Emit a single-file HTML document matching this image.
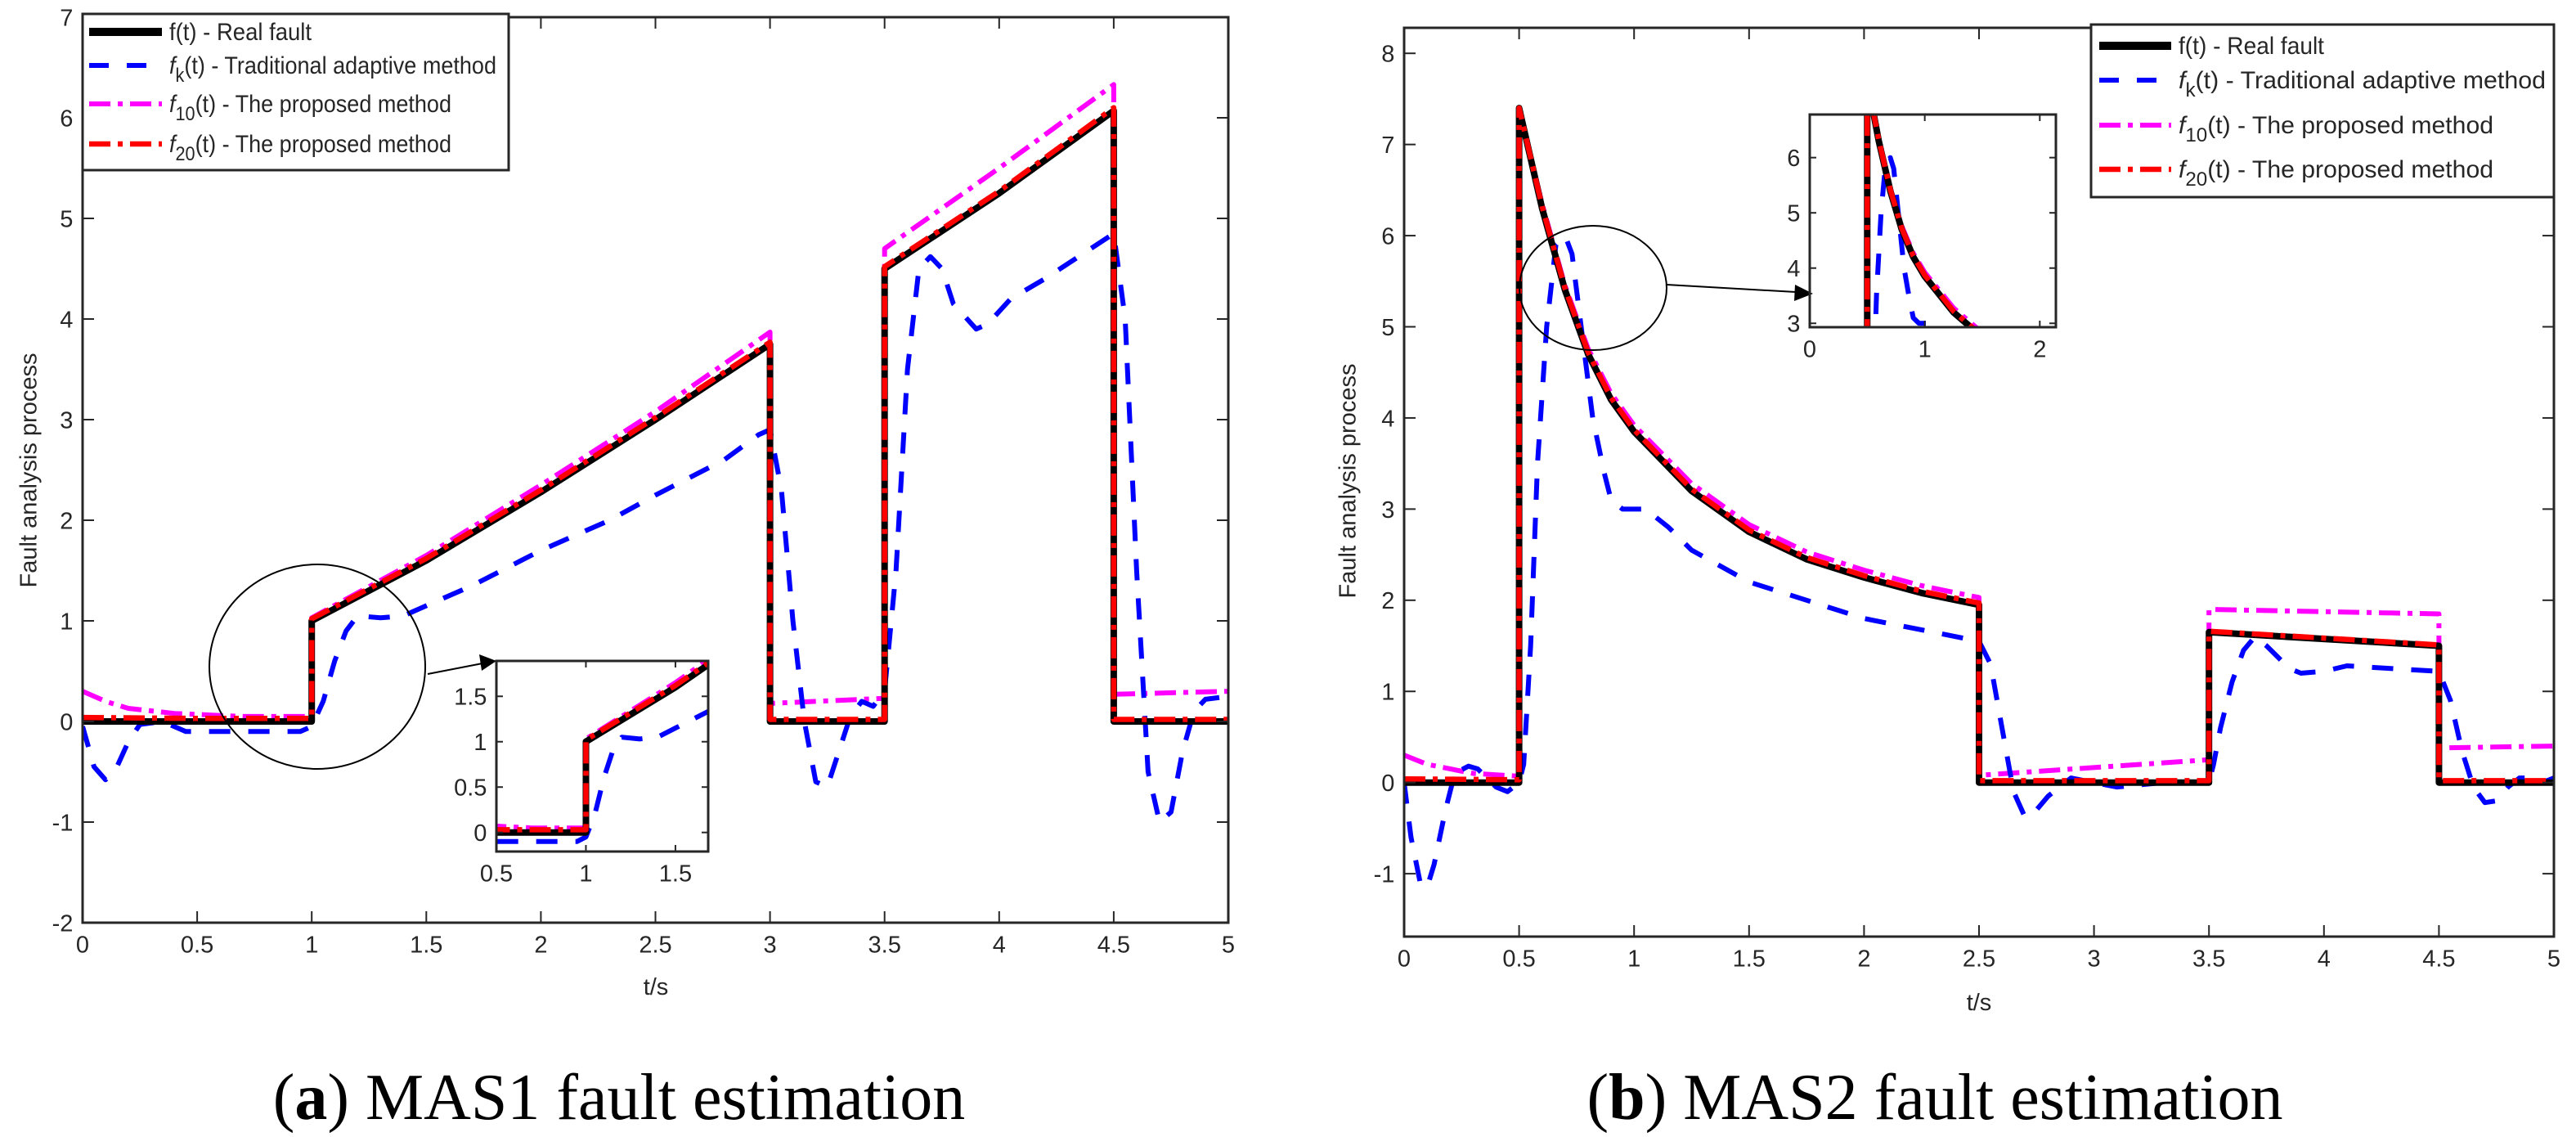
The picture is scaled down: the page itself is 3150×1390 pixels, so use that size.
<!DOCTYPE html>
<html><head><meta charset="utf-8"><style>
html,body{margin:0;padding:0;background:#fff;}
svg{display:block;}
text{font-family:"Liberation Sans",sans-serif;fill:#262626;}
</style></head><body>
<svg id="fig" width="3150" height="1390" viewBox="0 0 3150 1390" xmlns="http://www.w3.org/2000/svg"></svg>
<script>
// ---------- MAS1 data ----------
const a_f_t = [0,1,1,1.5,2,2.5,3,3,3.5,3.5,4,4.5,4.5,5];
const a_f_v = [0,0,1,1.6,2.28,3.0,3.75,0,0,4.5,5.25,6.07,0,0];
const a_f20_t = [0,0.5,1,1,1.5,2,2.5,3,3,3.5,3.5,4,4.5,4.5,5];
const a_f20_v = [0.04,0.03,0.03,1.02,1.62,2.3,3.02,3.77,0.02,0.02,4.52,5.27,6.1,0.02,0.02];
const a_f10_t = [0,0.1,0.2,0.4,0.7,1,1,1.5,2,2.5,3,3,3.5,3.5,4,4.5,4.5,5];
const a_f10_v = [0.3,0.2,0.13,0.08,0.05,0.05,1.03,1.65,2.35,3.08,3.87,0.18,0.23,4.7,5.5,6.33,0.27,0.3];
const a_fk_t = [0,0.05,0.1,0.15,0.2,0.25,0.35,0.45,0.6,0.8,0.95,1.0,1.05,1.1,1.15,1.2,1.3,1.4,1.5,1.7,2.0,2.3,2.5,2.8,2.95,3.0,3.05,3.1,3.15,3.2,3.25,3.3,3.35,3.4,3.45,3.5,3.55,3.6,3.65,3.7,3.75,3.8,3.9,3.95,4.05,4.2,4.5,4.55,4.6,4.65,4.7,4.75,4.8,4.85,4.9,5];
const a_fk_v = [-0.05,-0.45,-0.58,-0.45,-0.2,-0.03,0,-0.1,-0.1,-0.1,-0.1,-0.05,0.2,0.6,0.9,1.05,1.03,1.05,1.15,1.35,1.7,2.0,2.25,2.6,2.85,2.9,2.3,1.0,0,-0.6,-0.65,-0.3,0.05,0.2,0.15,0.3,1.5,3.5,4.5,4.62,4.5,4.15,3.9,3.95,4.2,4.4,4.85,4.0,1.5,-0.5,-1.0,-0.9,-0.3,0.1,0.22,0.25];
const a_xticks = [0,0.5,1,1.5,2,2.5,3,3.5,4,4.5,5];
const a_yticks = [-2,-1,0,1,2,3,4,5,6,7];
const a_in_xticks = [0.5,1,1.5];
const a_in_yticks = [0,0.5,1,1.5];
// ---------- MAS2 data ----------
const b_f_t = [0,0.5,0.5,0.6,0.7,0.8,0.9,1.0,1.25,1.5,1.75,2.0,2.25,2.5,2.5,3.5,3.5,4.5,4.5,5];
const b_f_v = [0,0,7.4,6.3,5.4,4.7,4.2,3.85,3.2,2.75,2.45,2.25,2.08,1.95,0,0,1.65,1.5,0,0];
const b_f20_t = [0,0.5,0.5,0.6,0.7,0.8,0.9,1.0,1.25,1.5,1.75,2.0,2.25,2.5,2.5,3.5,3.5,4.5,4.5,5];
const b_f20_v = [0.04,0.03,7.4,6.32,5.42,4.72,4.22,3.87,3.22,2.77,2.47,2.27,2.1,1.97,0.02,0.02,1.66,1.51,0.02,0.02];
const b_f10_t = [0,0.1,0.3,0.5,0.5,0.6,0.7,0.8,0.9,1.0,1.25,1.5,1.75,2.0,2.25,2.5,2.5,3.5,3.5,4.5,4.5,5];
const b_f10_v = [0.3,0.2,0.1,0.07,7.4,6.35,5.45,4.76,4.27,3.92,3.28,2.83,2.53,2.33,2.16,2.03,0.08,0.25,1.9,1.85,0.38,0.4];
const b_fk_t = [0,0.03,0.07,0.1,0.13,0.18,0.22,0.28,0.32,0.4,0.45,0.5,0.52,0.55,0.58,0.62,0.66,0.7,0.73,0.77,0.82,0.87,0.9,0.95,1.05,1.15,1.25,1.5,2.0,2.3,2.5,2.55,2.6,2.65,2.7,2.75,2.8,2.9,3.0,3.1,3.3,3.5,3.52,3.55,3.6,3.65,3.7,3.75,3.85,3.9,4.0,4.1,4.3,4.5,4.55,4.6,4.65,4.7,4.75,4.8,4.85,4.9,4.95,5];
const b_fk_v = [0,-0.6,-1.1,-1.15,-0.9,-0.3,0.1,0.18,0.15,-0.05,-0.1,0,0.2,1.5,3.5,5.0,5.9,6.0,5.8,5.0,4.0,3.4,3.1,3.0,3.0,2.8,2.55,2.2,1.8,1.65,1.55,1.3,0.6,-0.1,-0.38,-0.3,-0.15,0.05,0,-0.05,0,0,0.2,0.6,1.1,1.45,1.6,1.5,1.25,1.2,1.22,1.28,1.25,1.22,0.9,0.35,-0.05,-0.22,-0.2,-0.05,0.05,0.05,0,0.05];
const b_xticks = [0,0.5,1,1.5,2,2.5,3,3.5,4,4.5,5];
const b_yticks = [-1,0,1,2,3,4,5,6,7,8];
const b_in_xticks = [0,1,2];
const b_in_yticks = [3,4,5,6];
const legendLabels = ["Real fault","Traditional adaptive method","The proposed method","The proposed method"];

const NS="http://www.w3.org/2000/svg";
const svg=document.getElementById('fig');
function mk(tag,attrs,parent){const e=document.createElementNS(NS,tag);for(const k in attrs)e.setAttribute(k,attrs[k]);(parent||svg).appendChild(e);return e;}
let clipId=0;

function axes(box,xr,yr){
  const sx=t=>box.x0+(t-xr[0])/(xr[1]-xr[0])*(box.x1-box.x0);
  const sy=v=>box.y1-(v-yr[0])/(yr[1]-yr[0])*(box.y1-box.y0);
  return {sx,sy};
}
function drawSeries(g,ax,ts,vs,style,name){
  let d='';
  for(let i=0;i<ts.length;i++){d+=(i?'L':'M')+ax.sx(ts[i]).toFixed(1)+','+ax.sy(vs[i]).toFixed(1);}
  const p=mk('path',Object.assign({d:d,fill:'none','stroke-linejoin':'round'},style),g);
  
  
  return p;
}
const styles={
  f:{stroke:'#000','stroke-width':8},
  fk:{stroke:'#0000ff','stroke-width':6,'stroke-dasharray':'26 22'},
  f10:{stroke:'#ff00ff','stroke-width':6,'stroke-dasharray':'26 9 6 9'},
  f20:{stroke:'#ff0000','stroke-width':6.5,'stroke-dasharray':'26 9 6 9'}
};
function drawAll(g,ax,D,scale,prefix){
  const w=k=>Object.assign({},styles[k],{'stroke-width':styles[k]['stroke-width']*scale});
  drawSeries(g,ax,D.f10t,D.f10v,w('f10'),prefix+'series-f10');
  drawSeries(g,ax,D.fkt,D.fkv,w('fk'),prefix+'series-fk');
  drawSeries(g,ax,D.ft,D.fv,w('f'),prefix+'series-f-real');
  drawSeries(g,ax,D.f20t,D.f20v,w('f20'),prefix+'series-f20');
}
function frame(box,ax,xt,yt,fs,tl,xfmt,prefix){
  const g=mk('g',{});
  
  
  xt.forEach(t=>{
    const x=ax.sx(t);
    mk('line',{x1:x,y1:box.y1,x2:x,y2:box.y1-tl,stroke:'#262626','stroke-width':2},g);
    mk('line',{x1:x,y1:box.y0,x2:x,y2:box.y0+tl,stroke:'#262626','stroke-width':2},g);
    const tx=mk('text',{x:x,y:box.y1+fs*1.25,'font-size':fs,'text-anchor':'middle'},g);
    tx.textContent=String(t);
    
    
  });
  yt.forEach(v=>{
    const y=ax.sy(v);
    mk('line',{x1:box.x0,y1:y,x2:box.x0+tl,y2:y,stroke:'#262626','stroke-width':2},g);
    mk('line',{x1:box.x1,y1:y,x2:box.x1-tl,y2:y,stroke:'#262626','stroke-width':2},g);
    const tx=mk('text',{x:box.x0-fs*0.4,y:y+fs*0.36,'font-size':fs,'text-anchor':'end'},g);
    tx.textContent=String(v);
    
    
  });
  mk('rect',{x:box.x0,y:box.y0,width:box.x1-box.x0,height:box.y1-box.y0,fill:'none',stroke:'#262626','stroke-width':3},g);
}
function panel(P){
  const ax=axes(P.box,P.xr,P.yr);
  const id='c'+(clipId++);
  const cp=mk('clipPath',{id:id});
  mk('rect',{x:P.box.x0,y:P.box.y0,width:P.box.x1-P.box.x0,height:P.box.y1-P.box.y0},cp);
  const g=mk('g',{'clip-path':'url(#'+id+')'});
  
  
  drawAll(g,ax,P.D,P.lw,P.prefix);
  frame(P.box,ax,P.xt,P.yt,P.fs,P.tl,null,P.prefix);
  return ax;
}
function legend(L,prefix){
  const g=mk('g',{});
  
  
  mk('rect',{x:L.x,y:L.y,width:L.w,height:L.h,fill:'#fff',stroke:'#262626','stroke-width':3},g);
  const keys=['f','fk','f10','f20'];
  const subs=['','k','10','20'];
  keys.forEach((k,i)=>{
    const ry=L.rows[i];
    const st=Object.assign({},styles[k]);
    if(k==='f') st['stroke-width']=10;
    if(k==='fk') st['stroke-dasharray']='24 22';
    mk('line',Object.assign({x1:L.lx0,y1:ry,x2:L.lx1,y2:ry},st),g);
    const t=mk('text',{x:L.tx,y:ry+10,'font-size':30,fill:'#000',textLength:L.tw[i],lengthAdjust:'spacingAndGlyphs'},g);
    
    
    if(k==='f'){t.textContent='f(t) - '+legendLabels[i];}
    else{
      const a=document.createElementNS(NS,'tspan');a.setAttribute('font-style','italic');a.textContent='f';t.appendChild(a);
      const b=document.createElementNS(NS,'tspan');b.setAttribute('dy','10');b.setAttribute('font-size','24');b.textContent=subs[i];t.appendChild(b);
      const c=document.createElementNS(NS,'tspan');c.setAttribute('dy','-10');c.textContent='(t) - '+legendLabels[i];t.appendChild(c);
    }
  });
}
function label(txt,x,y,rot,name,fs,extra){
  const t=mk('text',Object.assign({x:x,y:y,'font-size':fs,'text-anchor':'middle'},extra||{}));
  if(rot) t.setAttribute('transform','rotate(-90 '+x+' '+y+')');
  t.textContent=txt;
  
  
  return t;
}
const DA={ft:a_f_t,fv:a_f_v,f20t:a_f20_t,f20v:a_f20_v,f10t:a_f10_t,f10v:a_f10_v,fkt:a_fk_t,fkv:a_fk_v};
const DB={ft:b_f_t,fv:b_f_v,f20t:b_f20_t,f20v:b_f20_v,f10t:b_f10_t,f10v:b_f10_v,fkt:b_fk_t,fkv:b_fk_v};

// Left panel
panel({box:{x0:101,y0:21,x1:1502,y1:1128},xr:[0,5],yr:[-2,7],D:DA,lw:1,xt:a_xticks,yt:a_yticks,fs:29,tl:14,prefix:'mas1-'});
legend({x:101,y:17,w:521,h:191,rows:[39,80,127,176],lx0:109,lx1:198,tx:207,tw:[174,400,345,345]},'mas1-');
mk('ellipse',{cx:388,cy:815,rx:132,ry:125,fill:'none',stroke:'#000','stroke-width':2});
mk('line',{x1:523,y1:824,x2:590,y2:811,stroke:'#000','stroke-width':2});
mk('polygon',{points:'607,808 586,800 589,820',fill:'#000'});
panel({box:{x0:607,y0:808,x1:866,y1:1041},xr:[0.5,1.683],yr:[-0.21,1.89],D:DA,lw:1,xt:a_in_xticks,yt:a_in_yticks,fs:29,tl:8,prefix:'mas1-inset-'});
label('Fault analysis process',37,575,true,'mas1-y-axis-title',29,{'dominant-baseline':'middle'});
label('t/s',802,1216,false,'mas1-x-axis-title',29);
const ca=label('',757,1368,false,'caption-a',80,{style:'font-family:"Liberation Serif",serif;fill:#000'});
ca.innerHTML='(<tspan font-weight="bold">a</tspan>) MAS1 fault estimation';

// Right panel
panel({box:{x0:1717,y0:34,x1:3123,y1:1145},xr:[0,5],yr:[-1.69,8.28],D:DB,lw:1,xt:b_xticks,yt:b_yticks,fs:29,tl:14,prefix:'mas2-'});
legend({x:2557,y:30,w:566,h:211,rows:[56,98,153,207],lx0:2567,lx1:2655,tx:2664,tw:[178,449,385,385]},'mas2-');
mk('ellipse',{cx:1948,cy:352,rx:90,ry:76,fill:'none',stroke:'#000','stroke-width':2});
mk('line',{x1:2038,y1:348,x2:2196,y2:357,stroke:'#000','stroke-width':2});
mk('polygon',{points:'2217,359 2195,348 2194,368',fill:'#000'});
panel({box:{x0:2213,y0:140,x1:2514,y1:400},xr:[0,2.14],yr:[2.93,6.78],D:DB,lw:1,xt:b_in_xticks,yt:b_in_yticks,fs:29,tl:8,prefix:'mas2-inset-'});
label('Fault analysis process',1650,588,true,'mas2-y-axis-title',29,{'dominant-baseline':'middle'});
label('t/s',2420,1235,false,'mas2-x-axis-title',29);
const cb=label('',2366,1368,false,'caption-b',80,{style:'font-family:"Liberation Serif",serif;fill:#000'});
cb.innerHTML='(<tspan font-weight="bold">b</tspan>) MAS2 fault estimation';
</script>
</body></html>
